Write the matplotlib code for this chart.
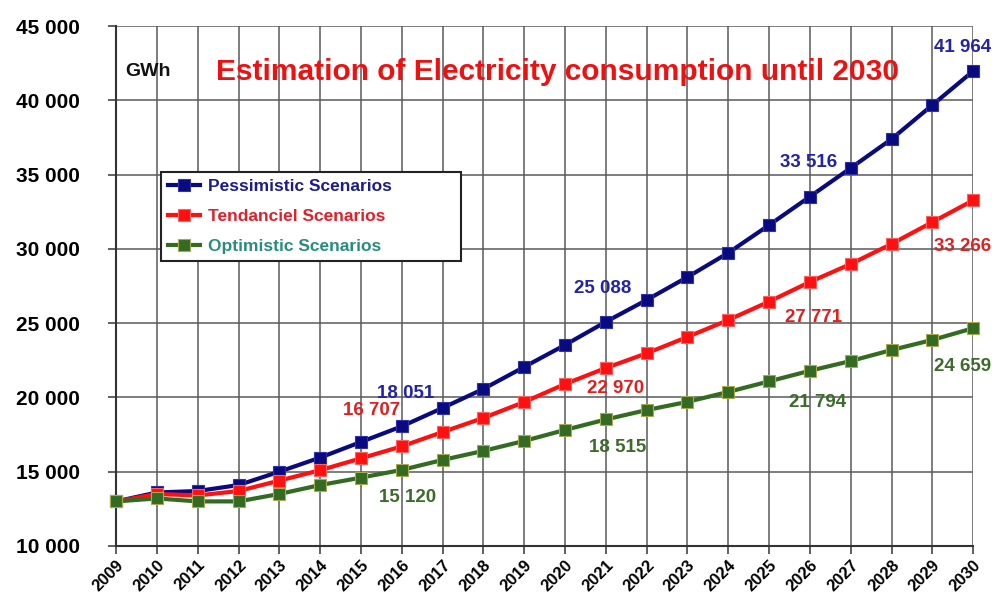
import matplotlib.pyplot as plt
from matplotlib.ticker import FuncFormatter

plt.rcParams['font.family'] = ['Liberation Sans', 'DejaVu Sans']
plt.rcParams['font.weight'] = 'bold'

years = list(range(2009, 2031))
pessimistic = [13000, 13600, 13700, 14100, 15000, 15950, 17000, 18051, 19290, 20570,
               22050, 23530, 25088, 26560, 28100, 29730, 31600, 33516, 35440, 37390,
               39680, 41964]
tendanciel = [13000, 13500, 13400, 13700, 14400, 15100, 15900, 16707, 17670, 18620,
              19690, 20900, 21980, 22970, 24070, 25210, 26450, 27771, 28980, 30330,
              31800, 33266]
optimistic = [13000, 13200, 13000, 13000, 13500, 14100, 14600, 15120, 15790, 16400,
              17070, 17810, 18515, 19150, 19700, 20370, 21080, 21794, 22450, 23190,
              23870, 24659]

# annotated values per series
blue_vals = [18051, 25088, 33516, 41964]
red_vals = [16707, 22970, 27771, 33266]
green_vals = [15120, 18515, 21794, 24659]

# where the annotation texts sit (x in years, y in GWh)
blue_pos = [(2016.1, 20230), (2020.93, 27360), (2025.96, 35780), (2029.73, 43580)]
red_pos = [(2015.27, 19150), (2021.23, 20630), (2026.08, 25350), (2029.73, 30125)]
green_pos = [(2016.13, 13230), (2021.3, 16660), (2026.18, 19690), (2029.73, 22050)]

fig = plt.figure(figsize=(9.92, 5.98), dpi=100)
ax = fig.add_axes([0.117, 0.087, 0.864, 0.8695])

series = [
    (pessimistic, '#0a0a80', '#3030a8', 'Pessimistic Scenarios', '#1c1c8c'),
    (tendanciel, '#ff1010', '#ff6060', 'Tendanciel Scenarios', '#e0202a'),
    (optimistic, '#336b22', '#a8a850', 'Optimistic Scenarios', '#2a8c7c'),
]
for vals, col, edge, name, _ in series:
    ax.plot(years, vals, color=col, lw=3, marker='s', ms=9, mfc=col, mec=edge,
            mew=0.8, label=name, clip_on=False, zorder=3)

def fmt(v):
    return f"{v:,}".replace(',', ' ')

for vals, pos, col in [(blue_vals, blue_pos, '#2222aa'),
                       (red_vals, red_pos, '#e02020'),
                       (green_vals, green_pos, '#3d6b2c')]:
    for v, (x, y) in zip(vals, pos):
        ax.text(x, y, fmt(v), ha='center', va='center', color=col,
                fontsize=13.5, fontweight='bold', zorder=4, clip_on=False)

ax.set_xlim(2009, 2030)
ax.set_ylim(10000, 45000)
ax.set_xticks(years)
ax.set_yticks(range(10000, 45001, 5000))
ax.yaxis.set_major_formatter(FuncFormatter(lambda v, p: fmt(int(v))))
ax.tick_params(axis='y', labelsize=15, length=6, width=1.2, color='#444444', pad=20)
ax.tick_params(axis='x', labelsize=12, length=6, width=1.2, color='#444444', pad=2)
for lab in ax.get_xticklabels():
    lab.set_rotation(45)
    lab.set_ha('right')
    lab.set_rotation_mode('anchor')
for lab in ax.get_xticklabels() + ax.get_yticklabels():
    lab.set_fontweight('bold')

ax.grid(True, color='#5a5a5a', lw=1.1)
ax.set_axisbelow(True)
for s in ['top', 'right']:
    ax.spines[s].set_visible(False)
ax.spines['left'].set_color('#333333')
ax.spines['left'].set_linewidth(1.5)
ax.spines['bottom'].set_color('#333333')
ax.spines['bottom'].set_linewidth(1.5)

ax.text(0.011, 0.912, 'GWh', transform=ax.transAxes, fontsize=14, fontweight='bold',
        color='#111111', va='center')
ax.text(0.515, 0.912, 'Estimation of Electricity consumption until 2030',
        transform=ax.transAxes, fontsize=21.5, fontweight='bold', color='#ee1111',
        ha='center', va='center')

leg = ax.legend(loc='upper left', bbox_to_anchor=(0.0525, 0.719, 0.35, 0),
                mode='expand', fontsize=12.5, frameon=True, fancybox=False,
                edgecolor='#222222', framealpha=1, handlelength=1.85,
                handletextpad=0.45, borderpad=0.4, labelspacing=0.85,
                borderaxespad=0)
leg.get_frame().set_linewidth(1.5)
leg.set_zorder(5)
for txt, s in zip(leg.get_texts(), series):
    txt.set_color(s[4])
    txt.set_fontweight('bold')

fig.savefig('out.png', dpi=100)
